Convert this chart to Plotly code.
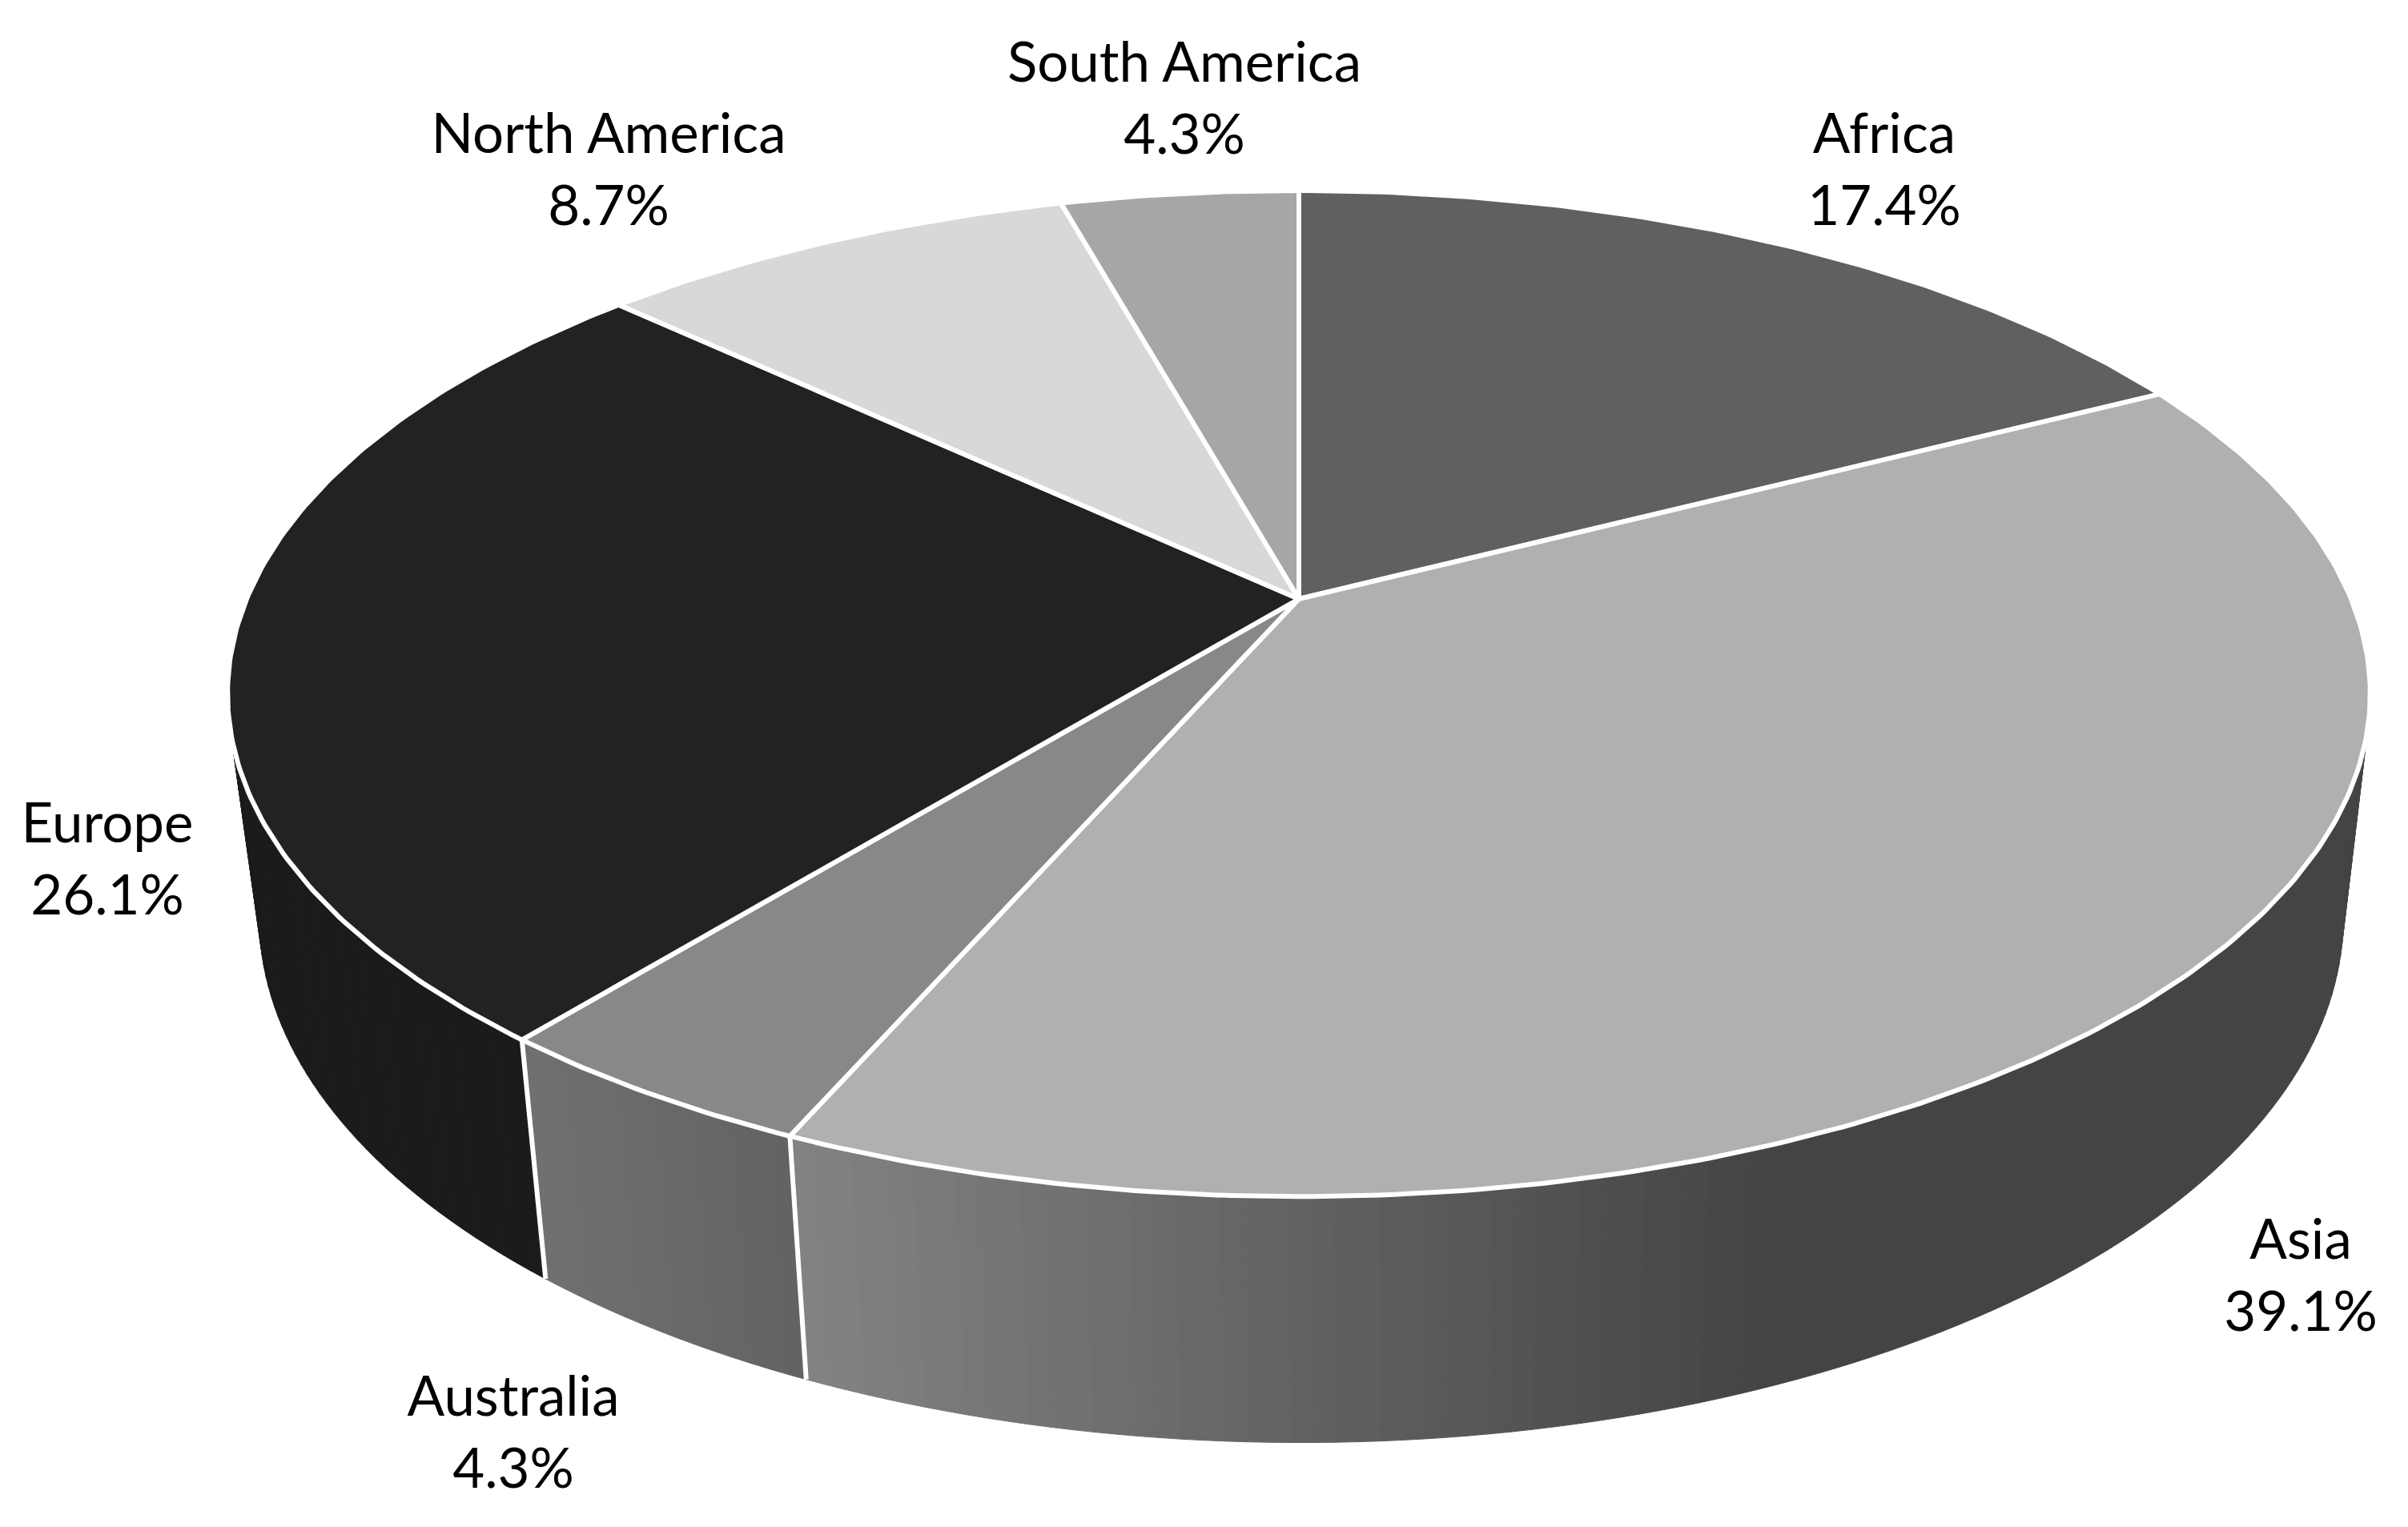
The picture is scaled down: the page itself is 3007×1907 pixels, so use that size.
import numpy as np
import plotly.graph_objects as go

categories = ["Africa", "Asia", "Australia", "Europe", "North America", "South America"]
shares = [17.4, 39.1, 4.3, 26.1, 8.7, 4.3]
top_colors = ["#606060", "#b0b0b0", "#888888", "#222222", "#d8d8d8", "#a6a6a6"]

# label anchors (image pixels)
label_x = [2353, 2873, 641, 134, 760, 1479]
label_y = [219, 1600, 1796, 1080, 219, 130]

W, H = 3007, 1907
PAGE_MARGIN = 8  # the page body keeps a default margin around the figure
TOP = dict(cx=1622.0, cy=748.0, a=1314.0, b=606.0, k=0.188)
LOW = dict(cx=1625.0, cy=1022.0, a=1278.0, b=633.0, k=0.188)


def project(theta, d):
    """theta: degrees clockwise from 12 o'clock on the pie; perspective projection."""
    t = np.radians(theta)
    x, y = np.sin(t), np.cos(t)
    w = 1 + d["k"] * y
    return d["cx"] + d["a"] * x / w, d["cy"] - d["b"] * y / w


def lerp_grey(v0, v1, f):
    f = min(1.0, max(0.0, f))
    g = int(round(v0 + (v1 - v0) * f))
    return f"rgb({g},{g},{g})"


def wall_color(cat, xmid):
    if cat == "Asia":
        return lerp_grey(0x82, 0x44, (xmid - 1000) / (2210 - 1000))
    if cat == "Australia":
        return lerp_grey(0x70, 0x62, (xmid - 660) / (1000 - 660))
    return "rgb(27,27,27)"


fig = go.Figure()

edges = np.concatenate([[0], np.cumsum(shares)]) * 360.0 / sum(shares)

# side wall, drawn as thin strips so the shading runs across it
for i, cat in enumerate(categories):
    lo = max(edges[i], 92.0)
    hi = min(edges[i + 1], 268.0)
    if hi <= lo:
        continue
    n = max(2, int((hi - lo) / 1.0))
    th = np.linspace(lo, hi, n + 1)
    for a0, a1 in zip(th[:-1], th[1:]):
        seg = np.array([a0, a1])
        xt, yt = project(seg, TOP)
        xb, yb = project(seg[::-1], LOW)
        xs = list(xt) + list(xb) + [xt[0]]
        ys = list(yt) + list(yb) + [yt[0]]
        c = wall_color(cat, float(np.mean(xt)))
        fig.add_trace(go.Scatter(x=xs, y=ys, mode="lines", fill="toself", fillcolor=c,
                                 line=dict(color=c, width=1), hoverinfo="skip", showlegend=False))

# white seams on the wall at slice boundaries in the front half
for e in edges[1:-1]:
    if 92 < e < 268:
        xt, yt = project(np.array([e]), TOP)
        xb, yb = project(np.array([e]), LOW)
        fig.add_trace(go.Scatter(x=[xt[0], xb[0]], y=[yt[0], yb[0]], mode="lines",
                                 line=dict(color="white", width=6), hoverinfo="skip", showlegend=False))

# top face
for i, cat in enumerate(categories):
    th = np.linspace(edges[i], edges[i + 1], max(8, int(shares[i] * 6)))
    xa, ya = project(th, TOP)
    xs = [TOP["cx"]] + list(xa) + [TOP["cx"]]
    ys = [TOP["cy"]] + list(ya) + [TOP["cy"]]
    fig.add_trace(go.Scatter(x=xs, y=ys, mode="lines", fill="toself", fillcolor=top_colors[i],
                             line=dict(color="white", width=6), name=cat,
                             hoverinfo="skip", showlegend=False))

# labels
labels = [f"{c}<br>{s:.1f}%" for c, s in zip(categories, shares)]
fig.add_trace(go.Scatter(x=label_x, y=label_y, mode="text", text=labels, textposition="middle center",
                         textfont=dict(family="Lato", size=69, color="black"),
                         hoverinfo="skip", showlegend=False, cliponaxis=False))

fig.update_layout(width=W - 2 * PAGE_MARGIN, height=H - 2 * PAGE_MARGIN,
                  margin=dict(l=0, r=0, t=0, b=0),
                  paper_bgcolor="white", plot_bgcolor="white",
                  xaxis=dict(range=[PAGE_MARGIN, W - PAGE_MARGIN], visible=False, fixedrange=True),
                  yaxis=dict(range=[H - PAGE_MARGIN, PAGE_MARGIN], visible=False, fixedrange=True))
fig.write_html("out.html", config={"displayModeBar": False})
